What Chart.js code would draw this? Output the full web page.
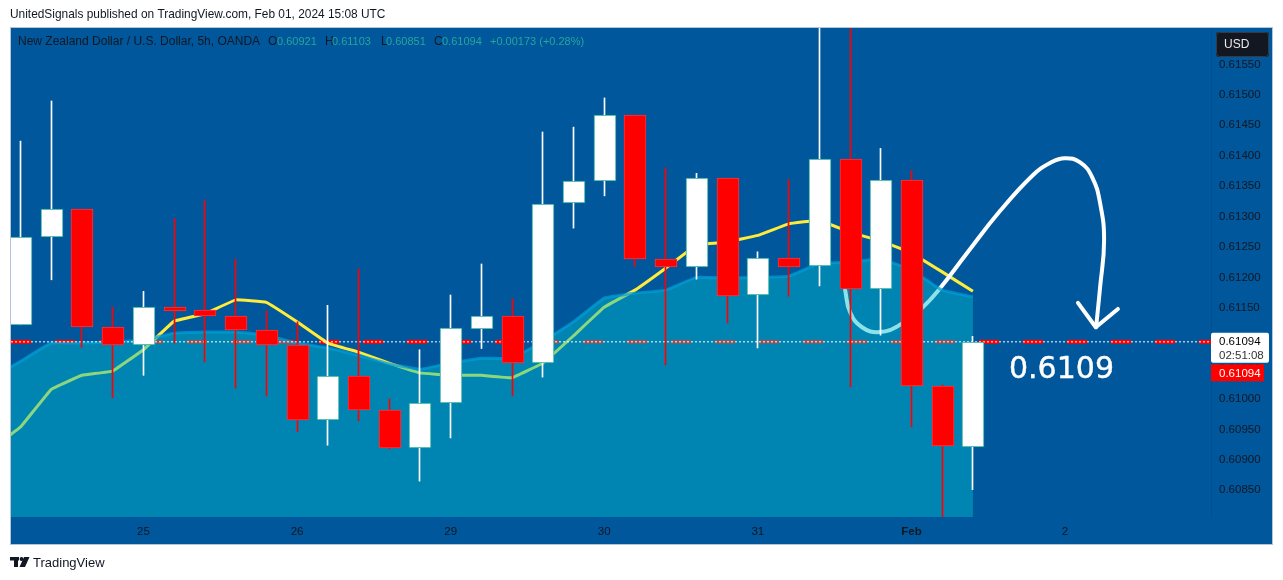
<!DOCTYPE html>
<html>
<head>
<meta charset="utf-8">
<title>NZDUSD</title>
<script src="https://cdn.jsdelivr.net/npm/chart.js@4/dist/chart.umd.min.js"></script>
<style>
  html, body { margin: 0; padding: 0; background: #ffffff; }
  #wrap { width: 1283px; height: 580px; }
</style>
</head>
<body>
<div id="wrap"><canvas id="grafica" width="1283" height="580"></canvas></div>
<script>
// bar number 0 is the half hidden candle on the left edge
const barIndex = [0,1,2,3,4,5,6,7,8,9,10,11,12,13,14,15,16,17,18,19,20,21,22,23,24,25,26,27,28,29,30,31];
const openP  = [0.61122,0.61266,0.61312,0.61118,0.61089,0.61151,0.61146,0.61136,0.61113,0.61089,0.60965,0.61038,0.60982,0.60919,0.60993,0.61115,0.61136,0.61059,0.61322,0.61358,0.61467,0.61230,0.61217,0.61363,0.61171,0.61232,0.61219,0.61394,0.61181,0.61360,0.61021,0.60921];
const closeP = [0.61266,0.61312,0.61118,0.61089,0.61151,0.61145,0.61136,0.61113,0.61089,0.60965,0.61038,0.60982,0.60919,0.60993,0.61117,0.61136,0.61059,0.61320,0.61358,0.61467,0.61230,0.61217,0.61363,0.61169,0.61232,0.61217,0.61394,0.61181,0.61360,0.61021,0.60923,0.61094];
const highP  = [0.61424,0.61490,0.61312,0.61151,0.61177,0.61297,0.61327,0.61230,0.61145,0.61127,0.61154,0.61214,0.61000,0.61081,0.61171,0.61222,0.61165,0.61439,0.61447,0.61495,0.61467,0.61380,0.61371,0.61363,0.61242,0.61361,0.61650,0.61650,0.61412,0.61376,0.61023,0.61103];
const lowP   = [0.61122,0.61196,0.61085,0.61002,0.61039,0.61092,0.61061,0.61018,0.61005,0.60946,0.60924,0.60964,0.60918,0.60865,0.60936,0.61083,0.61005,0.61036,0.61281,0.61334,0.61218,0.61056,0.61197,0.61125,0.61084,0.61169,0.61186,0.61020,0.61105,0.60954,0.60750,0.60851];

// moving average and area start one bar before the left edge
const lineBars = [-1,0,1,2,3,4,5,6,7,8,9,10,11,12,13,14,15,16,17,18,19,20,21,22,23,24,25,26,27,28,29,30,31];
const maValues = [0.60916,0.60954,0.61016,0.61039,0.61046,0.61081,0.61128,0.61140,0.61163,0.61159,0.61127,0.61092,0.61077,0.61059,0.61043,0.61039,0.61039,0.61035,0.61059,0.61104,0.61151,0.61179,0.61215,0.61253,0.61258,0.61269,0.61288,0.61294,0.61274,0.61260,0.61240,0.61209,0.61177];
const areaValues = [0.61033,0.61062,0.61092,0.61092,0.61094,0.61097,0.61108,0.61110,0.61110,0.61105,0.61092,0.61084,0.61072,0.61058,0.61049,0.61059,0.61067,0.61067,0.61095,0.61127,0.61166,0.61174,0.61179,0.61200,0.61199,0.61200,0.61202,0.61223,0.61225,0.61230,0.61212,0.61179,0.61168];

// hand drawn arrow on the chart
const brushBars = [26.84,27.00,27.39,27.97,28.63,29.37,29.93,30.81,31.88,32.95,33.51,33.99,34.49,34.88,35.14,35.27,35.14,35.01];
const brushValues = [0.61179,0.61143,0.61118,0.61110,0.61122,0.61151,0.61182,0.61240,0.61309,0.61368,0.61388,0.61396,0.61389,0.61365,0.61322,0.61261,0.61184,0.61118];
const arrowBars = [34.42,35.00,35.72];
const arrowValues = [0.61158,0.61118,0.61148];

const lastPrice = 0.61094;
const axisBars = [-0.31,38.75];
const xTicks = [4,9,14,19,24,29,34];
const xLabels = ['25','26','29','30','31','Feb','2'];
const yTicks = [0.6155,0.6150,0.6145,0.6140,0.6135,0.6130,0.6125,0.6120,0.6115,0.6110,0.6105,0.6100,0.6095,0.6090,0.6085];

const uiFont = '"Liberation Sans"';
const tvDark = '#131722';
const tvTeal = '#26a69a';

function makePoints(xs, ys) {
  return xs.map(function (x, i) { return { x: x, y: ys[i] }; });
}

function rounded(ctx, x, y, w, h, r) {
  ctx.beginPath();
  ctx.roundRect(x, y, w, h, r);
  ctx.fill();
}

const panelPlugin = {
  id: 'panel',
  // keep candles on whole pixels so thin wicks stay sharp
  afterDatasetsUpdate: function (chart) {
    chart.getDatasetMeta(0).data.forEach(function (el) {
      el.x = Math.floor(el.x) + 1;
      el.y = Math.round(el.y);
      el.base = Math.round(el.base);
    });
    chart.getDatasetMeta(1).data.forEach(function (el) {
      el.x = Math.floor(el.x) + 0.5;
    });
  },
  beforeDraw: function (chart) {
    const ctx = chart.ctx;
    ctx.save();
    ctx.fillStyle = '#ffffff';
    ctx.fillRect(0, 0, chart.width, chart.height);
    ctx.fillStyle = '#01579b';
    ctx.fillRect(10, 27, 1263, 518);
    ctx.strokeStyle = '#b4c5d8';
    ctx.strokeRect(10.5, 27.5, 1262, 517);
    ctx.restore();
  },
  afterDraw: function (chart) {
    const ctx = chart.ctx;
    const py = chart.scales.y.getPixelForValue(lastPrice);
    ctx.save();
    ctx.textBaseline = 'middle';
    ctx.textAlign = 'left';

    ctx.font = '11.9px ' + uiFont;
    ctx.fillStyle = tvDark;
    ctx.fillText('UnitedSignals published on TradingView.com, Feb 01, 2024 15:08 UTC', 10, 15);

    ctx.font = '12px ' + uiFont;
    ctx.fillText('New Zealand Dollar / U.S. Dollar, 5h, OANDA', 18, 42);
    ctx.fillText('O', 268, 42);
    ctx.fillText('H', 325, 42);
    ctx.fillText('L', 381, 42);
    ctx.fillText('C', 434, 42);
    ctx.font = '11px ' + uiFont;
    ctx.fillStyle = tvTeal;
    ctx.fillText('0.60921', 277, 42);
    ctx.fillText('0.61103', 332, 42);
    ctx.fillText('0.60851', 386, 42);
    ctx.fillText('0.61094', 442, 42);
    ctx.fillText('+0.00173 (+0.28%)', 490, 42);

    // USD button
    ctx.fillStyle = tvDark;
    rounded(ctx, 1216, 32, 53, 25, 3);
    ctx.strokeStyle = '#363a45';
    ctx.beginPath();
    ctx.roundRect(1216.5, 32.5, 52, 24, 3);
    ctx.stroke();
    ctx.font = '12px ' + uiFont;
    ctx.fillStyle = '#e8e9ec';
    ctx.fillText('USD', 1224, 45);

    // price labels on the axis
    ctx.font = '11.5px ' + uiFont;
    ctx.fillStyle = '#ffffff';
    rounded(ctx, 1211, py - 9, 58, 30, 2);
    ctx.fillStyle = '#000000';
    ctx.fillText(lastPrice.toFixed(5), 1219, py);
    ctx.fillStyle = '#333333';
    ctx.fillText('02:51:08', 1219, py + 14);
    ctx.fillStyle = '#ff0000';
    ctx.fillRect(1211, py + 22.5, 53, 17);
    ctx.fillStyle = '#ffffff';
    ctx.fillText(lastPrice.toFixed(5), 1219, py + 31.5);

    // note written on the chart
    ctx.font = '30px "DejaVu Sans"';
    ctx.fillStyle = '#ffffff';
    ctx.strokeStyle = '#ffffff';
    ctx.lineWidth = 0.4;
    ctx.fillText('0.6109', 1009, 370);
    ctx.strokeText('0.6109', 1009, 370);

    // logo and footer
    ctx.fillStyle = tvDark;
    ctx.fillRect(10, 557, 9, 3.5);
    ctx.fillRect(14, 557, 4, 10);
    ctx.beginPath();
    ctx.arc(21.5, 559, 1.9, 0, Math.PI * 2);
    ctx.fill();
    ctx.beginPath();
    ctx.moveTo(24, 557);
    ctx.lineTo(29.5, 557);
    ctx.lineTo(25, 567);
    ctx.lineTo(19.5, 567);
    ctx.closePath();
    ctx.fill();
    ctx.font = '13px ' + uiFont;
    ctx.fillText('TradingView', 33, 563);
    ctx.restore();
  }
};

const graph = document.getElementById('grafica');
const candleChart = new Chart(graph, {
  type: 'bar',
  plugins: [panelPlugin],
  data: {
    datasets: [
      {
        type: 'bar',
        label: 'Bodies',
        order: 1,
        data: barIndex.map(function (b, i) { return { x: b, y: [openP[i], closeP[i]] }; }),
        backgroundColor: barIndex.map(function (b, i) { return closeP[i] >= openP[i] ? '#ffffff' : '#ff0000'; }),
        borderColor: barIndex.map(function (b, i) { return closeP[i] >= openP[i] ? tvTeal : '#f23645'; }),
        borderWidth: 1,
        borderSkipped: false,
        barThickness: 22,
        grouped: false
      },
      {
        type: 'bar',
        label: 'Wicks',
        order: 2,
        data: barIndex.map(function (b, i) { return { x: b, y: [lowP[i], highP[i]] }; }),
        backgroundColor: barIndex.map(function (b, i) { return closeP[i] >= openP[i] ? '#ffffff' : '#ff0000'; }),
        borderWidth: 0,
        barThickness: 1,
        grouped: false
      },
      {
        type: 'line',
        label: 'Last dotted',
        order: 3,
        data: makePoints(axisBars, [lastPrice, lastPrice]),
        borderColor: '#ffffff',
        borderWidth: 1,
        borderDash: [2, 2],
        pointRadius: 0
      },
      {
        type: 'line',
        label: 'Area',
        order: 4,
        data: makePoints(lineBars, areaValues),
        borderColor: 'rgba(0,160,215,0.7)',
        borderWidth: 3,
        backgroundColor: 'rgba(0,190,206,0.45)',
        fill: 'start',
        tension: 0.1,
        pointRadius: 0
      },
      {
        type: 'line',
        label: 'Arrow',
        order: 5,
        data: makePoints(arrowBars, arrowValues),
        borderColor: '#ffffff',
        borderWidth: 4,
        borderCapStyle: 'round',
        borderJoinStyle: 'round',
        pointRadius: 0
      },
      {
        type: 'line',
        label: 'Brush',
        order: 6,
        data: makePoints(brushBars, brushValues),
        borderColor: '#ffffff',
        borderWidth: 4,
        borderCapStyle: 'round',
        tension: 0.45,
        pointRadius: 0
      },
      {
        type: 'line',
        label: 'MA',
        order: 7,
        data: makePoints(lineBars, maValues),
        borderColor: '#ffeb3b',
        borderWidth: 3,
        tension: 0.05,
        pointRadius: 0
      },
      {
        type: 'line',
        label: 'Last dashed',
        order: 8,
        data: makePoints(axisBars, [lastPrice, lastPrice]),
        borderColor: '#ff0000',
        borderWidth: 4,
        borderDash: [20, 24],
        pointRadius: 0
      }
    ]
  },
  options: {
    responsive: false,
    animation: false,
    devicePixelRatio: 1,
    layout: { padding: { left: 11, right: 11, top: 28, bottom: 36 } },
    plugins: {
      legend: { display: false },
      tooltip: { enabled: false },
      title: { display: false }
    },
    scales: {
      x: {
        type: 'linear',
        offset: false,
        min: axisBars[0],
        max: axisBars[1],
        grid: { display: false, drawTicks: false },
        border: { display: false },
        afterBuildTicks: function (axis) {
          axis.ticks = xTicks.map(function (v) { return { value: v }; });
        },
        afterFit: function (axis) { axis.height = 27; },
        ticks: {
          autoSkip: false,
          maxRotation: 0,
          padding: 8,
          color: tvDark,
          font: function (c) {
            return { family: uiFont, size: 11.5, weight: c.index === 5 ? 'bold' : 'normal' };
          },
          callback: function (v) { return xLabels[xTicks.indexOf(v)]; }
        }
      },
      y: {
        position: 'right',
        min: 0.60806,
        max: 0.61610,
        grid: { display: false, drawTicks: false },
        border: { color: 'rgba(19,23,34,0.12)' },
        afterBuildTicks: function (axis) {
          axis.ticks = yTicks.map(function (v) { return { value: v }; });
        },
        afterFit: function (axis) { axis.width = 61; },
        ticks: {
          autoSkip: false,
          padding: 8,
          color: tvDark,
          font: { family: uiFont, size: 11.5 },
          callback: function (v) { return v.toFixed(5); }
        }
      }
    }
  }
});
</script>
</body>
</html>
